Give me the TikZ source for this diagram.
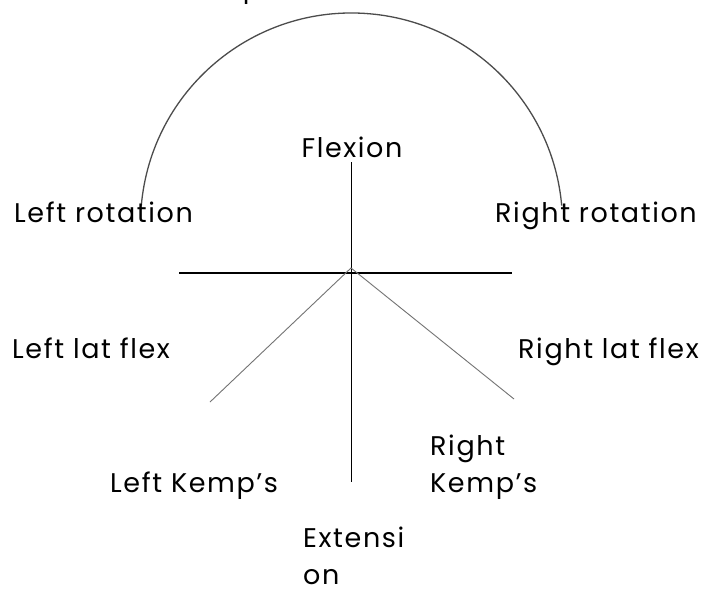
\documentclass[tikz,border=0pt]{standalone}
\usepackage{fontspec}
\setmainfont{Poppins}[LetterSpace=6]
\begin{document}
\begin{tikzpicture}[x=1pt,y=-1pt,
  lbl/.style={inner sep=0pt, font=\fontsize{27}{32}\selectfont, text=black},
  arcline/.style={draw=black!70, line width=1.3pt},
  axisline/.style={draw=black, line width=1pt},
  crossline/.style={draw=black, line width=2pt},
  diagline/.style={draw=black!55, line width=0.9pt}]
\useasboundingbox[fill=white] (0,0) rectangle (712,592);
% coordinates
\coordinate (c) at (351.5,224);
\coordinate (arcL) at (141.3,205.6);
\coordinate (top) at (351,162);
\coordinate (mid) at (351,268);
\coordinate (bot) at (351,482);
\coordinate (hl) at (179,273);
\coordinate (hr) at (512,273);
\coordinate (dl) at (210,402);
\coordinate (dr) at (514,399);
% arc
\draw[arcline] (arcL) arc[start angle=-175, end angle=-5, radius=211];
% lines
\draw[axisline] (top) -- (bot);
\draw[crossline] (hl) -- (hr);
\draw[diagline] (dl) -- (mid) -- (dr);
% labels
\node[lbl, anchor=base] (toplbl) at (252,-3) {p};
\node[lbl, anchor=base] (flex) at (352,157) {Flexion};
\node[lbl, anchor=base west] (lrot) at (14,222) {Left rotation};
\node[lbl, anchor=base west] (rrot) at (495,222) {Right rotation};
\node[lbl, anchor=base west] (llat) at (12,358) {Left lat flex};
\node[lbl, anchor=base west] (rlat) at (518,358) {Right lat flex};
\node[lbl, anchor=base west] (lkemp) at (110,492) {Left Kemp’s};
\node[lbl, anchor=base west] (rk1) at (430,455) {Right};
\node[lbl, anchor=base west] (rk2) at (430,492) {Kemp’s};
\node[lbl, anchor=base west] (ext1) at (303,547) {Extensi};
\node[lbl, anchor=base west] (ext2) at (303,584) {on};
\end{tikzpicture}
\end{document}
